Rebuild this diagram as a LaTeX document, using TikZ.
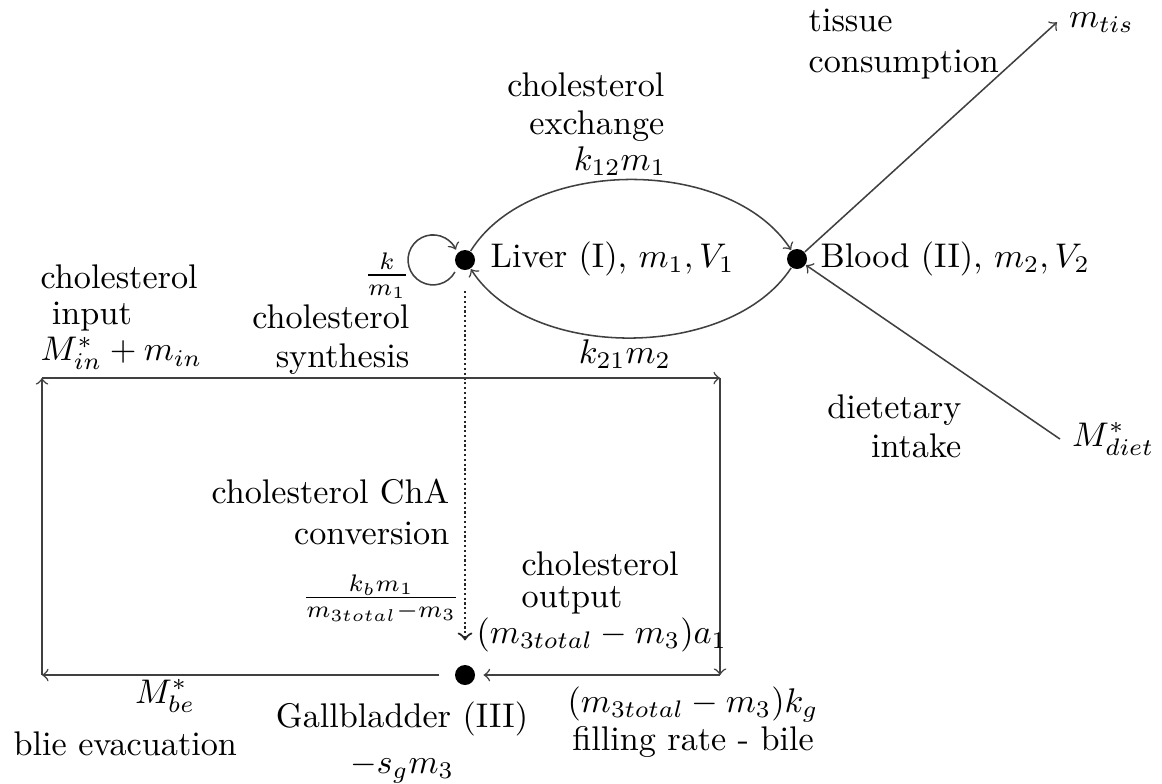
\documentclass[tikz,border=0pt]{standalone}
\usepackage{amsmath}
\begin{document}
\begin{tikzpicture}[x=0.2924pt,y=-0.2924pt,
  line/.style={draw=black!75, line width=0.45pt},
  arr/.style={line,->},
  dotted line/.style={line,->,draw=black!85,line width=0.65pt,dash pattern=on 0.65pt off 0.75pt},
  bdot/.style={circle,fill=black,inner sep=0pt,minimum size=5.85pt},
  txt/.style={inner sep=0pt},
  lines/.style={inner sep=0pt,font=\fontsize{10pt}{#1}\selectfont,
    execute at begin node={\lineskiplimit=-20pt\relax}}]
\useasboundingbox (0,0) rectangle (1162,783);

% main nodes
\node[bdot] (liver) at (465,260) {};
\node[bdot] (blood) at (797,259) {};
\node[bdot] (gall) at (465,675) {};
\node[anchor=base west] (mtis) at (1057,27) {$m_{tis}$};
\node[anchor=base west] (mdiet) at (1060,446) {$M^*_{diet}$};
\coordinate (bl) at (42,675);
\coordinate (tl) at (42,378);
\coordinate (tr) at (720,378);
\coordinate (br) at (720,675);
\coordinate (loopstart) at (454.9,272);

% connectors
\draw[arr] (liver) .. controls (530,156) and (730,156) .. (blood);
\draw[arr] (blood) .. controls (730,361) and (530,361) .. (liver);
\draw[arr] (loopstart) arc[start angle=-29,end angle=-336,radius=7.31pt];
\draw[arr] (blood) -- (mtis.west);
\draw[arr] (mdiet.west) -- (blood);
\draw[dotted line, shorten <=6pt, shorten >=7pt] (liver) -- (gall);
\draw[arr, shorten <=4.4pt] (gall) -- (bl);
\draw[arr] (bl) -- (tl);
\draw[arr] (tl) -- (tr);
\draw[arr] (tr) -- (br);
\draw[arr, shorten >=2.3pt] (br) -- (gall);

% labels
\node[lines=11pt, align=right, anchor=north east] (exch) at (665,72) {cholesterol\\exchange};
\node[txt, anchor=base] (k12) at (620,170) {$k_{12}m_1$};
\node[lines=12pt, align=left, anchor=north west] (tis) at (808,8) {tissue\\consumption};
\node[txt, anchor=base west] (liverlbl) at (490,267) {Liver (I), $m_1, V_1$};
\node[txt, anchor=base west] (bloodlbl) at (820,267) {Blood (II), $m_2, V_2$};
\node[txt] (kfrac) at (387,276) {$\frac{k}{m_1}$};
\node[lines=10.6pt, align=left, anchor=north west] (inp) at (40,264) {cholesterol\\\hspace{3.3pt}input\\$M^*_{in}+m_{in}$};
\node[lines=11.4pt, align=right, anchor=north east] (synth) at (410,304) {cholesterol\\synthesis};
\node[txt, anchor=base] (k21) at (625,363) {$k_{21}m_2$};
\node[lines=11.4pt, align=right, anchor=north east] (diet) at (962,394) {dietetary\\intake};
\node[lines=12pt, align=right, anchor=north east] (cha) at (450,478) {cholesterol ChA\\conversion};
\node[txt] (kbfrac) at (381,598) {$\frac{k_bm_1}{m_{3total}-m_3}$};
\node[lines=9.4pt, align=left, anchor=north west] (outp) at (521,551) {cholesterol\\output};
\node[txt, anchor=base west] (a1) at (476,643) {$(m_{3total}-m_3)a_1$};
\node[txt, anchor=base] (mbe) at (165,703) {$M^*_{be}$};
\node[txt, anchor=base west] (evac) at (13,755) {blie evacuation};
\node[lines=13.5pt, align=center, anchor=north] (gbl) at (402,701) {Gallbladder (III)\\$-s_gm_3$};
\node[lines=11.1pt, align=center, anchor=north] (fill) at (693,686) {$(m_{3total}-m_3)k_g$\\filling rate - bile};
\end{tikzpicture}
\end{document}
